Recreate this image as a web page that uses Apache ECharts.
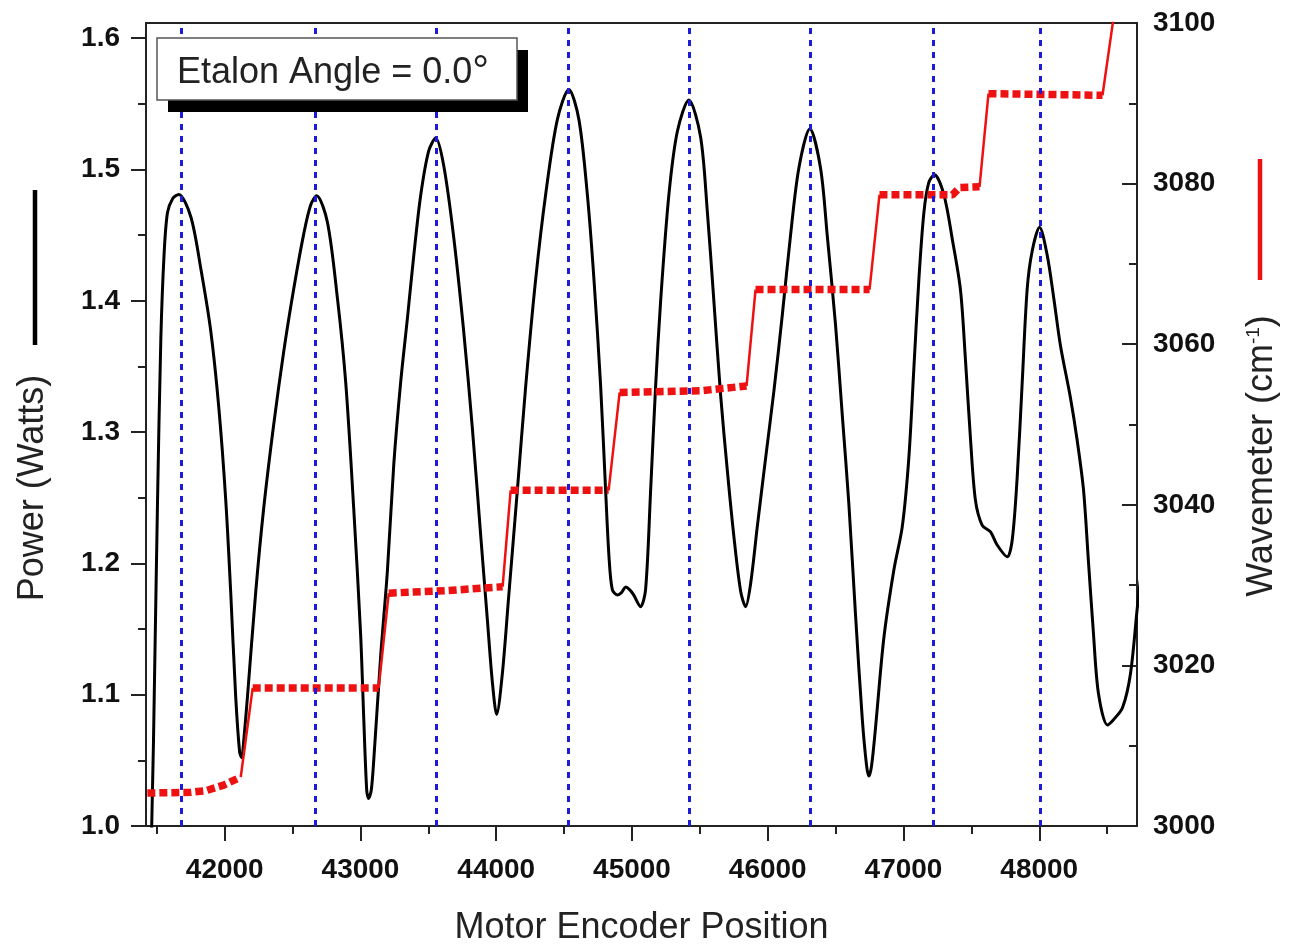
<!DOCTYPE html>
<html>
<head>
<meta charset="utf-8">
<script src="https://cdn.jsdelivr.net/npm/echarts@6/dist/echarts.min.js"></script>
<style>
  html, body { margin: 0; padding: 0; background: #ffffff; }
  #c { width: 1291px; height: 946px; }
</style>
</head>
<body>
<div id="c"></div>
<script>
// ---------------- data ----------------
// Power (Watts) vs motor encoder position
const powerPos = [
  41448, 41462, 41485, 41504, 41529, 41553, 41578, 41617, 41661, 41750,
  41823, 41897, 41956, 42007, 42044, 42081, 42110, 42125, 42140, 42167,
  42228, 42287, 42361, 42434, 42508, 42582, 42633, 42677, 42756, 42830,
  42891, 42950, 43001, 43024, 43046, 43060, 43079, 43097, 43149, 43198,
  43245, 43296, 43345, 43392, 43443, 43502, 43554, 43613, 43686, 43760,
  43824, 43885, 43934, 43971, 44003, 44045, 44091, 44155, 44217, 44290,
  44364, 44450, 44535, 44609, 44671, 44720, 44769, 44806, 44830, 44855,
  44892, 44924, 44953, 44982, 45012, 45063, 45100, 45137, 45174, 45211,
  45272, 45334, 45419, 45505, 45555, 45603, 45653, 45702, 45750, 45800,
  45837, 45873, 45923, 45984, 46045, 46107, 46168, 46229, 46310, 46389,
  46438, 46499, 46549, 46597, 46647, 46696, 46728, 46745, 46765, 46794,
  46855, 46929, 46991, 47039, 47076, 47113, 47150, 47186, 47228, 47297,
  47361, 47420, 47457, 47494, 47530, 47580, 47641, 47690, 47764, 47801,
  47837, 47874, 47911, 47948, 48002, 48058, 48107, 48156, 48230, 48279,
  48326, 48362, 48399, 48436, 48502, 48547, 48613, 48672, 48723, 48753
];
const powerVal = [
  0.989, 1.000, 1.126, 1.242, 1.370, 1.435, 1.467, 1.478, 1.481, 1.464,
  1.425, 1.377, 1.319, 1.249, 1.178, 1.098, 1.056, 1.052, 1.065, 1.098,
  1.178, 1.242, 1.306, 1.361, 1.409, 1.451, 1.473, 1.480, 1.460, 1.402,
  1.338, 1.242, 1.146, 1.082, 1.027, 1.021, 1.027, 1.049, 1.130, 1.194,
  1.275, 1.338, 1.386, 1.434, 1.480, 1.514, 1.524, 1.503, 1.449, 1.377,
  1.303, 1.222, 1.158, 1.110, 1.085, 1.116, 1.174, 1.255, 1.335, 1.416,
  1.481, 1.538, 1.561, 1.538, 1.481, 1.416, 1.335, 1.255, 1.206, 1.180,
  1.176, 1.178, 1.182, 1.180, 1.176, 1.167, 1.180, 1.255, 1.335, 1.400,
  1.481, 1.529, 1.553, 1.525, 1.468, 1.400, 1.328, 1.271, 1.221, 1.179,
  1.167, 1.184, 1.228, 1.280, 1.331, 1.389, 1.450, 1.501, 1.531, 1.501,
  1.450, 1.382, 1.313, 1.246, 1.160, 1.082, 1.046, 1.038, 1.046, 1.075,
  1.143, 1.195, 1.228, 1.280, 1.348, 1.416, 1.467, 1.490, 1.496, 1.481,
  1.446, 1.408, 1.354, 1.294, 1.248, 1.229, 1.224, 1.214, 1.205, 1.218,
  1.265, 1.337, 1.409, 1.438, 1.456, 1.435, 1.402, 1.366, 1.326, 1.294,
  1.256, 1.202, 1.147, 1.101, 1.077, 1.081, 1.090, 1.116, 1.167, 1.195
];

// Wavemeter (cm-1) plateaus: positions and readings
const plateauPos = [
  [41430, 41750, 41860, 41993, 42118],
  [42206, 43134],
  [43208, 43627, 44047],
  [44106, 44828],
  [44909, 45505, 45844],
  [45910, 46750],
  [46823, 47361, 47412, 47560],
  [47626, 48466]
];
const plateauVal = [
  [3004.1, 3004.2, 3004.4, 3005.1, 3006.1],
  [3017.2, 3017.2],
  [3029.0, 3029.3, 3029.8],
  [3041.8, 3041.8],
  [3054.0, 3054.2, 3054.8],
  [3066.8, 3066.8],
  [3078.6, 3078.6, 3079.5, 3079.6],
  [3091.2, 3091.0]
];
const waveTailPos = [48546];
const waveTailVal = [3100.5];

// Etalon transmission peaks (blue dashed markers)
const etalonPeaks = [41676, 42670, 43556, 44528, 45420, 46315, 47220, 48005];

// Axis ticks
const xTicks = [42000, 43000, 44000, 45000, 46000, 47000, 48000];
const xMinorTicks = [41500, 42500, 43500, 44500, 45500, 46500, 47500, 48500];
const powerTicks = [1.0, 1.1, 1.2, 1.3, 1.4, 1.5, 1.6];
const powerMinorTicks = [1.05, 1.15, 1.25, 1.35, 1.45, 1.55];

// ---------------- build ----------------
const powerData = powerPos.map((x, i) => [x, powerVal[i]]);

const plateauData = [];
plateauPos.forEach((xs, k) => {
  xs.forEach((x, i) => plateauData.push([x, plateauVal[k][i]]));
  plateauData.push('-');
});

const stepData = [];
for (let k = 0; k < plateauPos.length - 1; k++) {
  const a = plateauPos[k].length - 1;
  stepData.push([plateauPos[k][a], plateauVal[k][a]]);
  stepData.push([plateauPos[k + 1][0], plateauVal[k + 1][0]]);
  stepData.push('-');
}
{
  const k = plateauPos.length - 1, a = plateauPos[k].length - 1;
  stepData.push([plateauPos[k][a], plateauVal[k][a]]);
  waveTailPos.forEach((x, i) => stepData.push([x, waveTailVal[i]]));
}

const FONT = "'Liberation Sans', Arial, Helvetica, sans-serif";
const AX = '#222222';
const RED = '#ee1111';
const BLUE = '#1c1cd8';
const plain = v => String(Math.round(v));

const chart = echarts.init(document.getElementById('c'), null, { renderer: 'canvas' });

const option = {
  backgroundColor: '#ffffff',
  animation: false,
  grid: {
    left: 146, top: 23, width: 991, height: 803,
    outerBoundsMode: 'none', containLabel: false,
    show: true, borderColor: AX, borderWidth: 2, backgroundColor: 'transparent'
  },
  xAxis: [
    {
      type: 'value', min: 41420, max: 48720, position: 'bottom',
      axisLine: { show: true, lineStyle: { color: AX, width: 2 } },
      axisTick: { show: true, customValues: xTicks, length: 15, lineStyle: { color: AX, width: 2 } },
      axisLabel: {
        show: true, customValues: xTicks, margin: 30, formatter: plain,
        fontFamily: FONT, fontSize: 28, fontWeight: 'bold', color: '#111'
      },
      splitLine: { show: false },
      name: 'Motor Encoder Position', nameLocation: 'middle', nameGap: 84,
      nameTextStyle: { fontFamily: FONT, fontSize: 36, color: '#222' }
    },
    {
      type: 'value', min: 41420, max: 48720, position: 'bottom',
      axisLine: { show: false },
      axisTick: { show: true, customValues: xMinorTicks, length: 8, lineStyle: { color: AX, width: 2 } },
      axisLabel: { show: false },
      splitLine: { show: false }
    }
  ],
  yAxis: [
    {
      type: 'value', min: 1.0, max: 1.6116, position: 'left',
      axisLine: { show: true, lineStyle: { color: AX, width: 2 } },
      axisTick: { show: true, customValues: powerTicks, length: 15, lineStyle: { color: AX, width: 2 } },
      axisLabel: {
        show: true, customValues: powerTicks, margin: 26,
        formatter: v => Number(v).toFixed(1),
        fontFamily: FONT, fontSize: 28, fontWeight: 'bold', color: '#111'
      },
      splitLine: { show: false }
    },
    {
      type: 'value', min: 3000, max: 3100, interval: 20, position: 'right',
      axisLine: { show: true, lineStyle: { color: AX, width: 2 } },
      axisTick: { show: true, inside: true, length: 15, lineStyle: { color: AX, width: 2 } },
      minorTick: { show: true, splitNumber: 2, length: 8, lineStyle: { color: AX, width: 2 } },
      axisLabel: {
        show: true, margin: 16, formatter: plain,
        fontFamily: FONT, fontSize: 28, fontWeight: 'bold', color: '#111'
      },
      splitLine: { show: false }
    },
    {
      type: 'value', min: 1.0, max: 1.6116, position: 'left',
      axisLine: { show: false },
      axisTick: { show: true, customValues: powerMinorTicks, length: 8, lineStyle: { color: AX, width: 2 } },
      axisLabel: { show: false },
      splitLine: { show: false }
    }
  ],
  series: [
    {
      name: 'Power', type: 'line', xAxisIndex: 0, yAxisIndex: 0,
      data: powerData, showSymbol: false, symbol: 'none', smooth: 0.3,
      lineStyle: { color: '#000000', width: 3 }, z: 2, clip: true
    },
    {
      name: 'Wavemeter plateaus', type: 'line', xAxisIndex: 0, yAxisIndex: 1,
      data: plateauData, showSymbol: false, symbol: 'none', connectNulls: false,
      lineStyle: { color: RED, width: 7.5, type: [8, 4], cap: 'butt' }, z: 3, clip: true
    },
    {
      name: 'Wavemeter steps', type: 'line', xAxisIndex: 0, yAxisIndex: 1,
      data: stepData, showSymbol: false, symbol: 'none', connectNulls: false,
      lineStyle: { color: RED, width: 2.5 }, z: 3, clip: true
    },
    {
      name: 'Etalon peaks', type: 'line', xAxisIndex: 0, yAxisIndex: 0,
      data: [], z: 4,
      markLine: {
        silent: true, symbol: ['none', 'none'], animation: false,
        label: { show: false },
        lineStyle: { color: BLUE, width: 3, type: [6, 6], cap: 'butt' },
        emphasis: { disabled: true },
        data: etalonPeaks.map(v => ({ xAxis: v }))
      }
    }
  ],
  graphic: [
    // annotation box with drop shadow
    { type: 'rect', z: 100, shape: { x: 168, y: 50, width: 360, height: 62 }, style: { fill: '#000000' } },
    { type: 'rect', z: 101, shape: { x: 157, y: 38, width: 360, height: 62 },
      style: { fill: '#ffffff', stroke: '#555555', lineWidth: 1.5 } },
    { type: 'text', z: 102, x: 177, y: 73,
      style: { text: 'Etalon Angle = 0.0{deg|°}', fontFamily: FONT, fontSize: 36, fill: '#222',
               textAlign: 'left', textVerticalAlign: 'middle',
               rich: { deg: { fontFamily: FONT, fontSize: 42, fill: '#222', verticalAlign: 'top' } } } },
    // left axis title with line key
    { type: 'text', z: 100, x: 33, y: 488, rotation: Math.PI / 2,
      style: { text: 'Power (Watts)', fontFamily: FONT, fontSize: 36, fill: '#222',
               textAlign: 'center', textVerticalAlign: 'middle' } },
    { type: 'line', z: 100, shape: { x1: 35, y1: 190, x2: 35, y2: 345 },
      style: { stroke: '#000000', lineWidth: 4.5 } },
    // right axis title with line key
    { type: 'text', z: 100, x: 1262, y: 456, rotation: Math.PI / 2,
      style: { text: 'Wavemeter (cm{sup|-1})', fontFamily: FONT, fontSize: 36, fill: '#222',
               textAlign: 'center', textVerticalAlign: 'middle',
               rich: { sup: { fontFamily: FONT, fontSize: 19, fill: '#222', verticalAlign: 'top' } } } },
    { type: 'line', z: 100, shape: { x1: 1260, y1: 159, x2: 1260, y2: 280 },
      style: { stroke: RED, lineWidth: 4.5 } }
  ]
};

chart.setOption(option);
</script>
</body>
</html>
